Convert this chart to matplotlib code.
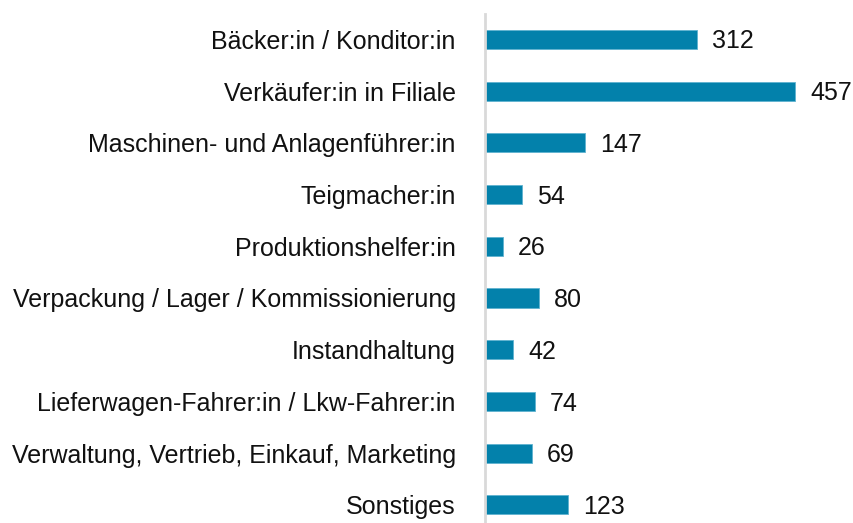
import matplotlib.pyplot as plt

categories = [
    "Bäcker:in / Konditor:in",
    "Verkäufer:in in Filiale",
    "Maschinen- und Anlagenführer:in",
    "Teigmacher:in",
    "Produktionshelfer:in",
    "Verpackung / Lager / Kommissionierung",
    "Instandhaltung",
    "Lieferwagen-Fahrer:in / Lkw-Fahrer:in",
    "Verwaltung, Vertrieb, Einkauf, Marketing",
    "Sonstiges",
]
values = [312, 457, 147, 54, 26, 80, 42, 74, 69, 123]

plt.rcParams["font.family"] = ["Liberation Sans", "DejaVu Sans"]

fig = plt.figure(figsize=(8.54, 5.23), dpi=100)
ax = fig.add_axes([485 / 854, 0, 369 / 854, 509 / 523])

bar_color = "#0381ab"
y = range(len(categories))
ax.barh(y, values, height=0.37, color=bar_color, edgecolor="#5fb3d0", linewidth=0.6)

# value labels right of each bar
for i, v in enumerate(values):
    ax.text(v + 22, i + 0.04, str(v), va="center", ha="left", fontsize=18, color="#111111")

ax.set_xlim(0, 544)
ax.set_ylim(9.35, -0.49)
ax.set_yticks(list(y))
ax.set_yticklabels(categories, fontsize=18, color="#111111")
ax.tick_params(axis="y", length=0, pad=21)
ax.set_xticks([])

for s in ["top", "right", "bottom"]:
    ax.spines[s].set_visible(False)
ax.spines["left"].set_color("#d9d9d9")
ax.spines["left"].set_linewidth(2)

fig.savefig("out.png", dpi=100)
